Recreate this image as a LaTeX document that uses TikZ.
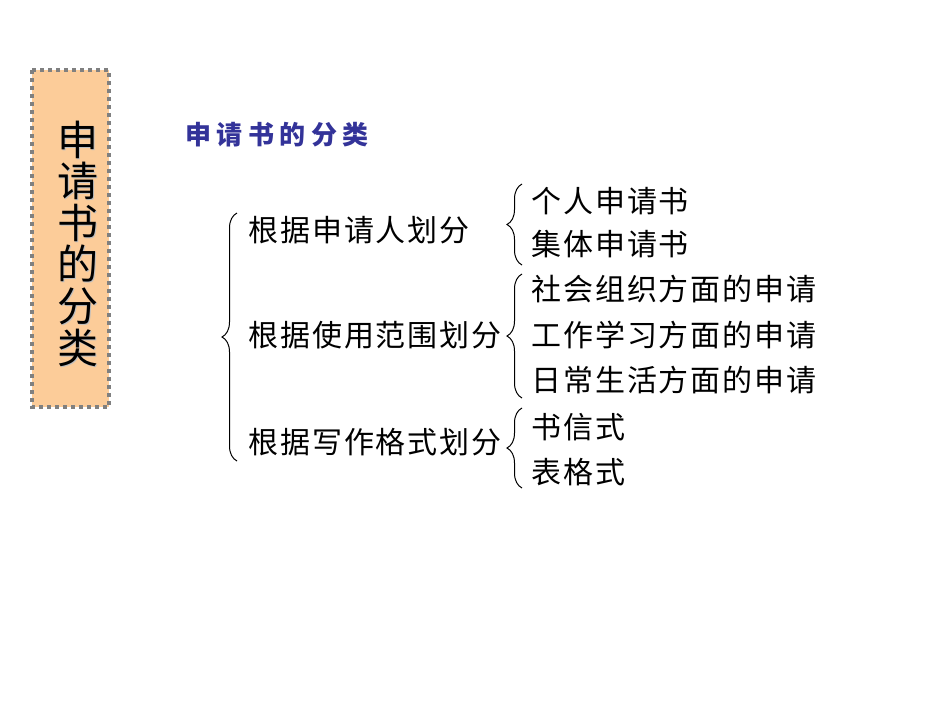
\documentclass[tikz,border=0pt]{standalone}
\usepackage{fontspec}
\newfontfamily\cjk{Noto Sans CJK SC}
\newfontfamily\cjkitem[LetterSpace=6.5]{Noto Sans CJK SC}
\newfontfamily\cjktitle[LetterSpace=21]{Noto Sans CJK SC}
\usetikzlibrary{decorations.pathreplacing,positioning}
\definecolor{peach}{RGB}{252,204,153}
\definecolor{titleblue}{RGB}{51,51,153}
\definecolor{framegray}{RGB}{128,128,128}

\tikzset{
	item/.style={anchor=west, inner sep=0pt, font=\cjkitem\fontsize{30}{32}\selectfont},
	sideword/.style={inner sep=0pt, align=center, font=\cjk\fontsize{41}{41.6}\selectfont},
	curly/.style={decorate, decoration={brace, amplitude=15pt}, line width=1pt},
}

\begin{document}
\begin{tikzpicture}[x=1pt, y=-1pt]
	%%%%% START %%%%%
	\useasboundingbox[fill=white] (0, 0) rectangle (950, 713);
	
	\draw[fill=peach, draw=framegray, line width=3.5pt, dash pattern=on 4pt off 4pt] (32, 70) rectangle (109, 407);
	\node[sideword, text=black!25] (sideshadow) at (78.5, 244.5) {申\\请\\书\\的\\分\\类};
	\node[sideword] (side) at (77.5, 243.5) {申\\请\\书\\的\\分\\类};
	
	\node[anchor=west, inner sep=0pt, text=titleblue, font=\cjktitle\bfseries\fontsize{26}{28}\selectfont] (title) at (185, 135) {申请书的分类};
	
	\node[item] (byapplicant) at (248, 230) {根据申请人划分};
	\node[item] (byscope) at (248, 335) {根据使用范围划分};
	\node[item] (byformat) at (248, 442) {根据写作格式划分};
	
	\node[item] (personal) at (531, 201) {个人申请书};
	\node[item] (collective) at (531, 244) {集体申请书};
	\node[item] (social) at (531, 289) {社会组织方面的申请};
	\node[item] (work) at (531, 335) {工作学习方面的申请};
	\node[item] (daily) at (531, 380) {日常生活方面的申请};
	\node[item] (letter) at (531, 427) {书信式};
	\node[item] (form) at (531, 472) {表格式};
	
	% braces
	\coordinate (mainlow) at (237, 461);
	\coordinate (mainhigh) at (237, 213);
	\coordinate (applow) at (522, 265);
	\coordinate (apphigh) at (522, 184);
	\coordinate (scopelow) at (522, 398);
	\coordinate (scopehigh) at (522, 274);
	\coordinate (formatlow) at (522, 488);
	\coordinate (formathigh) at (522, 408);
	
	\draw[curly] (mainlow) -- (mainhigh);
	\draw[curly] (applow) -- (apphigh);
	\draw[curly] (scopelow) -- (scopehigh);
	\draw[curly] (formatlow) -- (formathigh);
	
	%%%%% END %%%%%
\end{tikzpicture}
\end{document}
